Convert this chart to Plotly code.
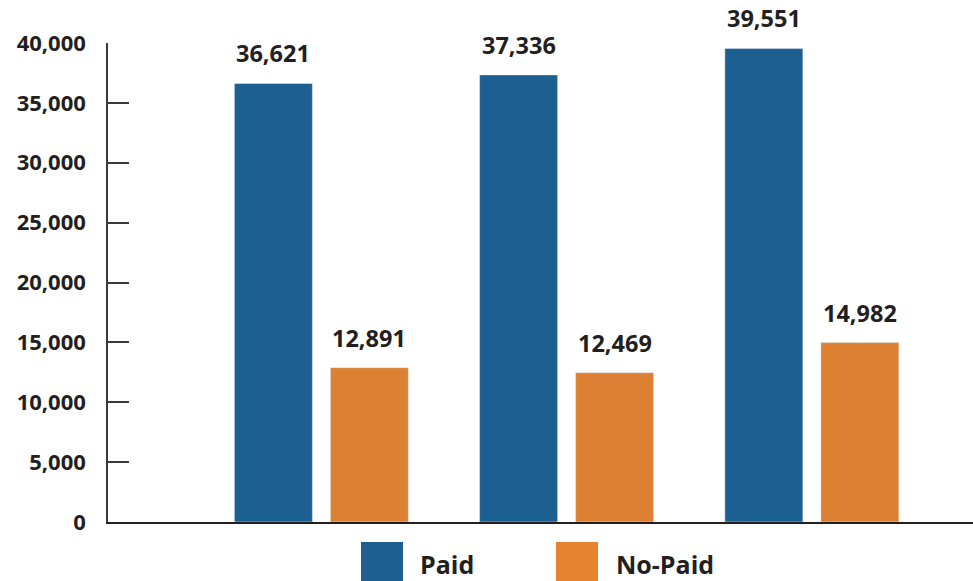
import plotly.graph_objects as go

categories = ["A", "B", "C"]
paid = [36621, 37336, 39551]
no_paid = [12891, 12469, 14982]
series_names = ["Paid", "No-Paid"]
y_ticks = [0, 5000, 10000, 15000, 20000, 25000, 30000, 35000, 40000]

BLUE = "#1c5f91"
ORANGE = "#dc8133"
ORANGE_LEG = "#e7832f"
TEXT = "#231f20"
FONT = "Open Sans"

W, H = 973, 581
L, R, T, B = 108, 0, 43, 59

fig = go.Figure()
fig.add_bar(x=categories, y=paid, name=series_names[0], marker_color=BLUE, showlegend=False)
fig.add_bar(x=categories, y=no_paid, name=series_names[1], marker_color=ORANGE, showlegend=False)

annotations = []
for vals, shift in ((paid, -48), (no_paid, 48)):
    for c, v in zip(categories, vals):
        annotations.append(dict(
            x=c, y=v, xref="x", yref="y", text=f"{v:,}", showarrow=False,
            xshift=shift, yshift=12, yanchor="bottom", xanchor="center",
            font=dict(family=FONT, size=23.5, color=TEXT, weight=700)))

pw, ph = W - L - R, H - T - B
def px(x):
    return (x - L) / pw
def py(y):
    return (H - B - y) / ph

shapes = []
legend_items = [(series_names[0], BLUE, 361, 418), (series_names[1], ORANGE_LEG, 556, 614)]
for name, col, bx, tx in legend_items:
    shapes.append(dict(type="rect", xref="paper", yref="paper",
                       x0=px(bx), x1=px(bx + 42), y0=py(542), y1=py(581),
                       fillcolor=col, line=dict(width=0)))
    annotations.append(dict(x=px(tx), y=py(564), xref="paper", yref="paper",
                            text=name, showarrow=False, xanchor="left", yanchor="middle",
                            font=dict(family=FONT, size=25, color=TEXT, weight=700)))

fig.update_layout(
    width=W, height=H,
    margin=dict(l=L, r=R, t=T, b=B, pad=0),
    paper_bgcolor="white", plot_bgcolor="white",
    barmode="group", bargap=0.217, bargroupgap=0.1875,
    annotations=annotations, shapes=shapes,
    xaxis=dict(range=[-0.87, 2.657], showticklabels=False, ticks="",
               showgrid=False, zeroline=False, showline=True,
               linecolor=TEXT, linewidth=2),
    yaxis=dict(range=[0, 40000], tickvals=y_ticks, tickformat=",d",
               ticks="inside", ticklen=21, tickwidth=1.5, tickcolor="#3a3a3a",
               showgrid=False, zeroline=False, showline=True,
               linecolor="#3a3a3a", linewidth=1.5, ticklabelstandoff=16,
               tickfont=dict(family=FONT, size=22, color=TEXT, weight=700)),
)

fig.write_html("out.html")
